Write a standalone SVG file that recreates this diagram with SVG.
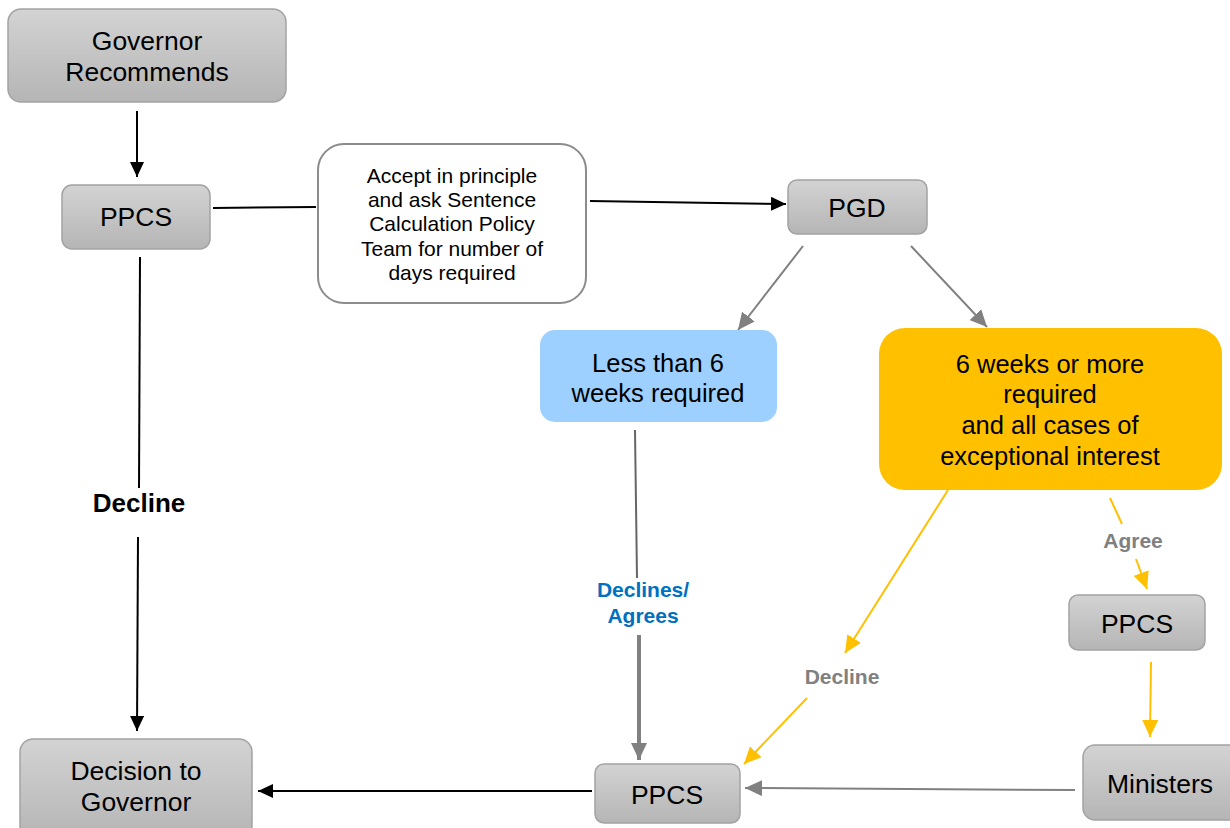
<svg xmlns="http://www.w3.org/2000/svg" width="1230" height="828" viewBox="0 0 1230 828">
<defs>
<linearGradient id="gg" x1="0" y1="0" x2="0" y2="1">
<stop offset="0" stop-color="#d3d3d3"/>
<stop offset="1" stop-color="#b5b5b5"/>
</linearGradient>
<marker id="ab" markerUnits="userSpaceOnUse" markerWidth="16" markerHeight="14" refX="15" refY="7" orient="auto"><path d="M0,0 L15,7 L0,14 z" fill="#000"/></marker>
<marker id="ag" markerUnits="userSpaceOnUse" markerWidth="18" markerHeight="16" refX="17" refY="8" orient="auto"><path d="M0,0 L17,8 L0,16 z" fill="#808080"/></marker>
<marker id="ao" markerUnits="userSpaceOnUse" markerWidth="18" markerHeight="16" refX="17" refY="8" orient="auto"><path d="M0,0 L17,8 L0,16 z" fill="#ffc000"/></marker>
</defs>
<style>
.g{fill:url(#gg);stroke:#a3a3a3;stroke-width:1.5}
.t{font-family:"Liberation Sans",Arial,sans-serif;font-size:26.5px;fill:#000;text-anchor:middle}
.o{font-family:"Liberation Sans",Arial,sans-serif;font-size:25.5px;fill:#000;text-anchor:middle}
.s{font-family:"Liberation Sans",Arial,sans-serif;font-size:21px;fill:#000;text-anchor:middle}
.lb{font-family:"Liberation Sans",Arial,sans-serif;font-weight:bold;text-anchor:middle}
.k{stroke:#000;stroke-width:2;fill:none}
.gr{stroke:#808080;stroke-width:2;fill:none}
.or{stroke:#ffc000;stroke-width:2;fill:none}
</style>
<g id="connectors">
<line class="k" x1="137" y1="111" x2="137" y2="177" marker-end="url(#ab)"/>
<line class="k" x1="213" y1="208" x2="316" y2="207"/>
<line class="k" x1="590" y1="201" x2="786" y2="204" marker-end="url(#ab)"/>
<line class="gr" x1="803" y1="246" x2="738" y2="330" marker-end="url(#ag)"/>
<line class="gr" x1="911" y1="246" x2="987" y2="327" marker-end="url(#ag)"/>
<line class="k" x1="140" y1="257" x2="139" y2="488"/>
<line class="k" x1="138" y1="537" x2="137" y2="731" marker-end="url(#ab)"/>
<line class="k" x1="592" y1="791" x2="258" y2="791" marker-end="url(#ab)"/>
<line stroke="#666" stroke-width="2" x1="635" y1="430" x2="637" y2="578"/>
<line stroke="#808080" stroke-width="4" x1="639" y1="635" x2="639" y2="760" marker-end="url(#ag)"/>
<line class="or" x1="948" y1="490" x2="845" y2="653" marker-end="url(#ao)"/>
<line class="or" x1="807" y1="698" x2="744" y2="764" marker-end="url(#ao)"/>
<line class="or" x1="1110" y1="498" x2="1122" y2="524"/>
<line class="or" x1="1136" y1="559" x2="1147" y2="589" marker-end="url(#ao)"/>
<line class="or" x1="1151" y1="662" x2="1150" y2="737" marker-end="url(#ao)"/>
<line class="gr" stroke-width="2.5" x1="1075" y1="790" x2="745" y2="788" marker-end="url(#ag)"/>
<text class="lb" x="139" y="512" font-size="26" fill="#000">Decline</text>
<text class="lb" x="643" y="597" font-size="21" fill="#0070c0">Declines/</text>
<text class="lb" x="643" y="623" font-size="21" fill="#0070c0">Agrees</text>
<text class="lb" x="842" y="684" font-size="21" fill="#808080">Decline</text>
<text class="lb" x="1133" y="548" font-size="21" fill="#808080">Agree</text>
</g>
<g id="governor-recommends">
<rect class="g" x="8" y="9" width="278" height="93" rx="13"/>
<text class="t" x="147" y="50">Governor</text>
<text class="t" x="147" y="81">Recommends</text>
</g>
<g id="ppcs-1">
<rect class="g" x="62" y="185" width="148" height="64" rx="10"/>
<text class="t" x="136" y="226">PPCS</text>
</g>
<g id="accept">
<rect x="318" y="144" width="268" height="159" rx="26" fill="#fff" stroke="#8c8c8c" stroke-width="2"/>
<text class="s" x="452" y="183">Accept in principle</text>
<text class="s" x="452" y="207">and ask Sentence</text>
<text class="s" x="452" y="231">Calculation Policy</text>
<text class="s" x="452" y="256">Team for number of</text>
<text class="s" x="452" y="280">days required</text>
</g>
<g id="pgd">
<rect class="g" x="788" y="180" width="139" height="54" rx="9"/>
<text class="t" x="857" y="217">PGD</text>
</g>
<g id="less-than-6">
<rect x="540" y="330" width="237" height="92" rx="15" fill="#9dcfff"/>
<text class="o" x="658" y="372">Less than 6</text>
<text class="o" x="658" y="402">weeks required</text>
</g>
<g id="six-weeks">
<rect x="879" y="328" width="343" height="162" rx="26" fill="#ffc000"/>
<text class="o" x="1050" y="373">6 weeks or more</text>
<text class="o" x="1050" y="403">required</text>
<text class="o" x="1050" y="434">and all cases of</text>
<text class="o" x="1050" y="465">exceptional interest</text>
</g>
<g id="decision-to-governor">
<rect class="g" x="20" y="739" width="232" height="100" rx="13"/>
<text class="t" x="136" y="780">Decision to</text>
<text class="t" x="136" y="811">Governor</text>
</g>
<g id="ppcs-bottom">
<rect class="g" x="595" y="764" width="145" height="59" rx="9"/>
<text class="t" x="667" y="804">PPCS</text>
</g>
<g id="ppcs-right">
<rect class="g" x="1069" y="595" width="136" height="55" rx="9"/>
<text class="t" x="1137" y="633">PPCS</text>
</g>
<g id="ministers">
<rect class="g" x="1083" y="745" width="160" height="75" rx="12"/>
<text class="t" x="1160" y="793">Ministers</text>
</g>
</svg>
